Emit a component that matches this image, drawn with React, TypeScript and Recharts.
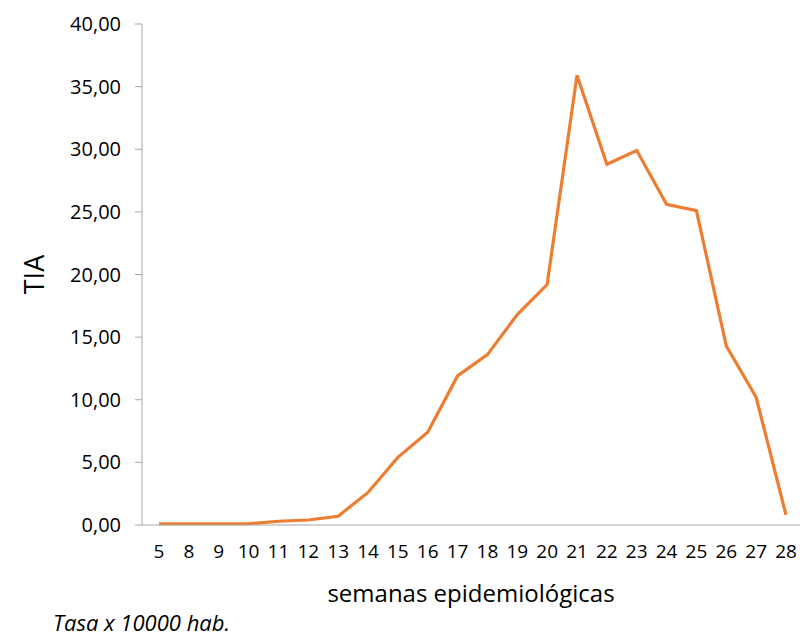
import { CartesianGrid, Label, Line, LineChart, XAxis, YAxis } from 'recharts'

const weeks = ['5', '8', '9', '10', '11', '12', '13', '14', '15', '16', '17', '18', '19', '20', '21', '22', '23', '24', '25', '26', '27', '28']
const tia = [0.1, 0.1, 0.1, 0.1, 0.3, 0.4, 0.7, 2.6, 5.4, 7.4, 11.9, 13.6, 16.8, 19.2, 35.9, 28.8, 29.9, 25.6, 25.1, 14.3, 10.2, 0.8]
const yTicks = [0, 5, 10, 15, 20, 25, 30, 35, 40]

const data = weeks.map((week, i) => ({ week, tia: tia[i] }))

const fmt = (v: number) => v.toFixed(2).replace('.', ',')
const font = '"Open Sans", sans-serif'

export default function App() {
  return (
    <div style={{ position: 'absolute', left: 0, top: 0, width: 800, height: 641, fontFamily: font }}>
      <LineChart width={800} height={641} data={data} margin={{ top: 24, right: 0, bottom: 0, left: 0 }}>
        <CartesianGrid stroke="none" />
        <XAxis
          dataKey="week"
          height={116}
          interval={0}
          padding={{ left: 17, right: 14 }}
          tickLine={false}
          tickSize={0}
          tickMargin={20}
          stroke="#a6a6a6"
          tick={{ fill: '#000', fontSize: 19, fontFamily: font }}
        >
          <Label value="semanas epidemiológicas" position="insideTop" offset={60} fill="#000" fontSize={24} fontFamily={font} />
        </XAxis>
        <YAxis
          width={142}
          domain={[0, 40]}
          ticks={yTicks}
          tickFormatter={fmt}
          tickSize={7}
          tickMargin={14}
          stroke="#a6a6a6"
          tick={{ fill: '#000', fontSize: 20, fontFamily: font }}
        >
          <Label value="TIA" angle={-90} position="insideLeft" offset={34} textAnchor="middle" fill="#000" fontSize={27} fontFamily={font} />
        </YAxis>
        <Line
          type="linear"
          dataKey="tia"
          stroke="#ed7d31"
          strokeWidth={3.2}
          dot={false}
          isAnimationActive={false}
        />
      </LineChart>
      <div style={{ position: 'absolute', left: 53, top: 610, fontSize: 22, lineHeight: '24px', fontStyle: 'italic', color: '#000', whiteSpace: 'nowrap' }}>
        Tasa x 10000 hab.
      </div>
    </div>
  )
}
